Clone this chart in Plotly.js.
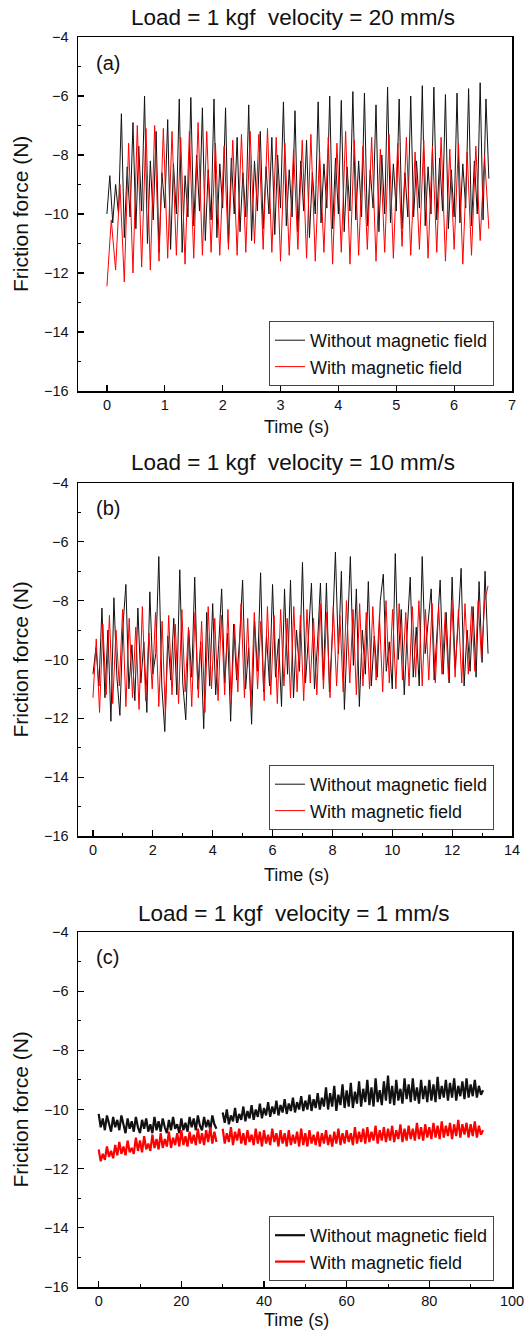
<!DOCTYPE html>
<html>
<head>
<meta charset="utf-8">
<script src="https://cdn.plot.ly/plotly-3.0.1.min.js"></script>
<style>html,body{margin:0;padding:0;background:#fff;}#chart{width:530px;height:1341px;}</style>
</head>
<body>
<div id="chart"></div>
<script>
// ---------- DATA ----------
// Panel (a): Load = 1 kgf, velocity = 20 mm/s
const dtA_without = 0.05;   // s, sample step of black trace
const fA_without = [
 -10.0,
 -8.7,-10.3,-9.0,-10.0,  -6.6,-10.8,-8.4,-10.1,  -6.9,-10.5,-7.7,-9.9,  -6.0,-11.0,-8.2,-10.2,
 -7.2,-11.3,-8.6,-9.8,   -6.8,-11.2,-8.3,-10.0,  -6.1,-11.3,-8.7,-10.1, -6.05,-10.4,-8.0,-9.9,
 -6.4,-10.9,-8.5,-10.2,  -6.1,-10.8,-8.3,-9.8,   -6.4,-11.0,-8.1,-10.0, -7.4,-10.6,-8.6,-10.1,
 -6.3,-10.9,-8.2,-9.9,   -7.2,-10.5,-8.4,-10.0,  -7.4,-10.7,-8.0,-9.8,  -6.2,-10.4,-8.5,-10.1,
 -6.5,-10.6,-8.2,-9.9,   -7.5,-10.8,-8.6,-10.0,  -6.2,-10.3,-8.3,-9.8,  -6.0,-10.5,-8.1,-10.0,
 -6.15,-10.6,-8.4,-9.9,  -5.85,-10.2,-8.2,-10.1, -5.9,-10.4,-8.5,-9.8,  -6.3,-10.6,-8.0,-10.0,
 -5.7,-10.3,-8.3,-9.9,   -6.1,-10.5,-8.6,-10.1,  -6.0,-10.1,-8.2,-9.8,  -5.65,-10.4,-8.4,-10.0,
 -5.7,-10.2,-8.1,-9.9,   -5.95,-10.5,-8.5,-10.1, -5.9,-10.3,-8.3,-9.8,  -5.75,-10.4,-8.2,-10.0,
 -5.55,-10.2,-6.1,-8.8
];
const dtA_with = 0.075;     // s, sample step of red trace
const fA_with = [
 -12.45,-10.2,-11.9,-9.0,-12.3,-7.6,-12.0,-7.0,-11.8,-7.1,
 -11.9,-7.0,-11.6,-7.1,-11.5,-7.2,-11.4,-7.4,-11.7,-7.2,
 -11.5,-6.9,-11.4,-7.2,-11.3,-7.6,-11.4,-7.7,-11.2,-7.5,
 -11.4,-7.3,-11.3,-7.2,-11.0,-7.3,-11.2,-7.1,-11.3,-7.4,
 -11.6,-7.6,-11.4,-7.8,-11.2,-7.5,-11.5,-7.3,-11.6,-7.9,
 -11.3,-7.4,-11.7,-7.6,-11.3,-7.2,-11.7,-7.5,-11.4,-7.7,
 -11.2,-7.4,-11.6,-7.8,-11.3,-7.3,-11.5,-7.6,-11.1,-7.4,
 -11.4,-7.9,-11.2,-7.5,-11.5,-7.7,-11.3,-7.4,-11.6,-7.8,
 -11.2,-7.6,-11.7,-7.9,-11.4,-7.7,-10.9,-8.0,-10.5
];

// Panel (b): Load = 1 kgf, velocity = 10 mm/s
const dtB_without = 0.1;
const fB_without = [
 -10.5,-9.6,-10.9,-8.25,-11.3,-9.0,-12.1,-7.9,-10.6,-11.9,
 -8.9,-7.45,-11.0,-9.5,-11.4,-8.25,-10.8,-9.4,-11.8,-7.7,
 -10.5,-9.8,-6.5,-10.9,-12.45,-9.2,-10.7,-8.6,-11.2,-6.95,
 -10.8,-12.05,-9.0,-10.6,-7.2,-11.0,-9.4,-12.35,-8.4,-10.9,
 -8.1,-11.2,-9.5,-7.6,-10.8,-9.1,-12.1,-8.8,-10.7,-9.3,
 -7.3,-11.0,-9.6,-12.2,-8.7,-10.4,-7.05,-11.1,-9.2,-10.9,
 -7.45,-10.6,-9.3,-11.6,-7.6,-10.5,-7.3,-11.3,-9.0,-10.4,
 -6.7,-10.8,-9.2,-7.4,-11.0,-9.5,-7.4,-10.7,-7.4,-11.1,
 -9.1,-6.35,-9.8,-7.0,-11.7,-9.3,-6.5,-10.2,-7.6,-11.6,
 -9.0,-10.5,-7.35,-10.9,-9.2,-10.6,-8.0,-7.1,-10.4,-9.4,
 -11.0,-6.4,-10.0,-8.3,-11.2,-9.0,-7.2,-10.6,-8.9,-10.9,
 -6.5,-9.8,-8.6,-7.6,-10.7,-9.1,-7.3,-10.5,-8.4,-10.8,
 -7.2,-10.3,-8.8,-6.9,-10.9,-9.0,-10.4,-8.2,-10.6,-7.35,
 -10.1,-7.0,-9.8
];
const dtB_with = 0.11;
const fB_with = [
 -11.3,-9.3,-11.8,-8.8,-11.2,-8.5,-11.5,-9.0,-10.9,-8.3,
 -11.6,-8.6,-11.3,-8.9,-11.7,-8.2,-11.4,-9.1,-11.0,-8.4,
 -11.6,-8.7,-11.9,-8.5,-11.2,-8.8,-11.5,-8.3,-11.1,-8.9,
 -11.6,-8.4,-11.3,-8.7,-11.8,-8.2,-11.0,-8.6,-11.4,-8.5,
 -11.2,-8.3,-11.5,-8.8,-11.1,-8.1,-11.3,-8.6,-11.6,-8.4,
 -11.0,-8.7,-11.4,-8.2,-11.2,-8.5,-11.5,-8.3,-10.9,-8.6,
 -11.3,-8.2,-11.1,-8.5,-11.4,-8.3,-10.8,-8.6,-11.2,-8.1,
 -11.0,-8.4,-11.3,-8.2,-10.9,-8.5,-11.1,-8.0,-10.8,-8.3,
 -11.2,-8.1,-10.9,-8.4,-11.0,-8.2,-10.7,-8.5,-11.1,-8.0,
 -10.8,-8.3,-11.0,-8.1,-10.7,-8.4,-10.9,-8.2,-10.6,-8.0,
 -10.9,-8.3,-10.7,-8.1,-10.8,-8.2,-10.5,-8.4,-10.7,-8.0,
 -10.6,-8.3,-10.8,-8.1,-10.5,-8.2,-10.4,-8.0,-10.0,-8.0,
 -7.5
];

// Panel (c): Load = 1 kgf, velocity = 1 mm/s  (null = gap in the record near 29 s)
const dtC = 0.5;
const fC_without = [
 -10.15,-10.6,-10.3,-10.7,-10.2,-10.45,-10.75,-10.25,-10.6,-10.35,
 -10.7,-10.2,-10.55,-10.8,-10.3,-10.65,-10.4,-10.75,-10.25,-10.6,
 -10.8,-10.35,-10.65,-10.3,-10.75,-10.5,-10.8,-10.25,-10.7,-10.4,
 -10.75,-10.3,-10.6,-10.8,-10.35,-10.7,-10.25,-10.65,-10.5,-10.8,
 -10.3,-10.7,-10.45,-10.75,-10.25,-10.6,-10.3,-10.7,-10.2,-10.55,
 -10.7,-10.25,-10.6,-10.35,-10.7,-10.2,-10.5,-10.65,null,null,
 -10.1,-10.45,-10.0,-10.5,-10.2,-10.4,-9.95,-10.45,-10.15,-10.35,
 -9.9,-10.4,-10.05,-10.3,-9.85,-10.35,-10.0,-10.25,-9.8,-10.3,
 -9.95,-10.2,-9.75,-10.25,-9.9,-10.15,-9.7,-10.2,-9.85,-10.1,
 -9.65,-10.15,-9.8,-10.05,-9.6,-10.1,-9.75,-10.0,-9.55,-10.05,
 -9.7,-10.0,-9.5,-10.05,-9.65,-9.95,-9.45,-10.0,-9.6,-9.9,
 -9.25,-10.0,-9.45,-9.9,-9.2,-10.05,-9.5,-9.85,-9.15,-9.95,
 -9.35,-9.9,-9.1,-9.95,-9.4,-9.8,-9.05,-9.9,-9.3,-9.75,
 -9.0,-9.85,-9.25,-9.9,-8.95,-9.75,-9.35,-9.85,-9.05,-9.7,
 -8.85,-9.8,-9.2,-9.85,-9.0,-9.7,-9.3,-9.8,-8.95,-9.65,
 -9.15,-9.75,-8.95,-9.7,-9.25,-9.8,-9.0,-9.65,-9.2,-9.75,
 -9.0,-9.7,-9.15,-9.75,-8.9,-9.65,-9.2,-9.6,-9.0,-9.7,
 -9.1,-9.6,-8.95,-9.7,-9.2,-9.55,-9.05,-9.65,-8.95,-9.6,
 -9.15,-9.55,-9.0,-9.6,-9.2,-9.5,-9.35
];
const fC_with = [
 -11.35,-11.75,-11.5,-11.7,-11.25,-11.6,-11.4,-11.65,-11.2,-11.55,
 -11.1,-11.5,-11.25,-11.55,-11.05,-11.45,-11.3,-11.5,-10.95,-11.4,
 -11.05,-11.45,-10.9,-11.35,-11.15,-11.4,-10.85,-11.3,-11.0,-11.35,
 -10.8,-11.3,-11.0,-11.25,-10.75,-11.3,-10.95,-11.2,-10.8,-11.25,
 -10.7,-11.2,-10.9,-11.25,-10.75,-11.15,-10.85,-11.2,-10.65,-11.15,
 -10.8,-11.2,-10.7,-11.1,-10.6,-11.15,-10.75,-11.1,null,null,
 -10.65,-11.15,-10.8,-11.1,-10.6,-11.2,-10.75,-11.05,-10.65,-11.15,
 -10.8,-11.2,-10.7,-11.1,-10.85,-11.2,-10.65,-11.15,-10.75,-11.25,
 -10.7,-11.15,-10.85,-11.2,-10.65,-11.1,-10.8,-11.25,-10.7,-11.15,
 -10.8,-11.25,-10.7,-11.2,-10.85,-11.15,-10.75,-11.25,-10.65,-11.2,
 -10.8,-11.25,-10.7,-11.15,-10.85,-11.2,-10.75,-11.25,-10.8,-11.15,
 -10.7,-11.2,-10.85,-11.25,-10.75,-11.15,-10.65,-11.2,-10.8,-11.15,
 -10.7,-11.1,-10.8,-11.2,-10.6,-11.15,-10.75,-11.1,-10.65,-11.15,
 -10.6,-11.1,-10.75,-11.05,-10.55,-11.15,-10.7,-11.05,-10.6,-11.1,
 -10.65,-11.05,-10.55,-11.1,-10.7,-11.0,-10.5,-11.1,-10.65,-11.05,
 -10.55,-11.0,-10.65,-11.05,-10.45,-11.0,-10.6,-11.05,-10.5,-10.95,
 -10.6,-11.0,-10.45,-10.95,-10.55,-11.0,-10.4,-10.95,-10.55,-10.9,
 -10.45,-11.0,-10.5,-10.9,-10.35,-10.95,-10.5,-10.85,-10.45,-10.95,
 -10.5,-10.9,-10.4,-10.95,-10.55,-10.85,-10.7
];

const panelTitles = ["Load = 1 kgf  velocity = 20 mm/s", "Load = 1 kgf  velocity = 10 mm/s", "Load = 1 kgf  velocity = 1 mm/s"];
const panelLabels = ["(a)", "(b)", "(c)"];
const seriesNames = ["Without magnetic field", "With magnetic field"];
const xTitle = "Time (s)";
const yTitle = "Friction force (N)";

// ---------- BUILD ----------
function times(n, dt) { const t = []; for (let i = 0; i < n; i++) t.push(+(i * dt).toFixed(4)); return t; }

const FONT = "Arial, 'Liberation Sans', sans-serif";
const BLACK = "#111111", RED = "#ff0000";

function pair(fw, dtw, fm, dtm, k, lw) {
  const sfx = k === 1 ? "" : String(k);
  return [
    {x: times(fw.length, dtw), y: fw, type: "scatter", mode: "lines", name: seriesNames[0],
     line: {color: BLACK, width: lw}, xaxis: "x" + sfx, yaxis: "y" + sfx, legend: "legend" + sfx},
    {x: times(fm.length, dtm), y: fm, type: "scatter", mode: "lines", name: seriesNames[1],
     line: {color: RED, width: lw}, xaxis: "x" + sfx, yaxis: "y" + sfx, legend: "legend" + sfx}
  ];
}
const data = [].concat(
  pair(fA_without, dtA_without, fA_with, dtA_with, 1, 1),
  pair(fB_without, dtB_without, fB_with, dtB_with, 2, 1),
  pair(fC_without, dtC, fC_with, dtC, 3, 2.2)
);

const W = 530, H = 1341;
const px = v => v / W, py = v => 1 - v / H;
const xDom = [px(78), px(512)];
const boxes = [[37, 391], [483, 836], [932, 1287]];
const TICKFONT = {family: FONT, size: 14.5, color: "#111"};

function yax(b) {
  return {domain: [py(b[1]), py(b[0])], range: [-16, -4], dtick: 2, tick0: 0,
    showgrid: false, zeroline: false, showline: true, mirror: true, linecolor: "#000", linewidth: 1.5,
    ticks: "inside", ticklen: 6, tickwidth: 1.2, tickcolor: "#000", ticklabelstandoff: 5,
    minor: {dtick: 1, ticks: "inside", ticklen: 3, tickcolor: "#000", tickwidth: 1},
    tickfont: TICKFONT, fixedrange: true};
}
function xax(anchor, range, dtick, minorDtick) {
  const a = {domain: xDom, anchor: anchor, range: range, dtick: dtick, tick0: 0,
    showgrid: false, zeroline: false, showline: true, mirror: true, linecolor: "#000", linewidth: 1.5,
    ticks: "inside", ticklen: 6, tickwidth: 1.2, tickcolor: "#000",
    tickfont: TICKFONT, fixedrange: true};
  if (minorDtick) a.minor = {dtick: minorDtick, ticks: "inside", ticklen: 3, tickcolor: "#000", tickwidth: 1};
  return a;
}
function leg(midPx) {
  return {x: px(269), y: py(midPx), xanchor: "left", yanchor: "middle", bgcolor: "#fff",
    bordercolor: "#444", borderwidth: 1, font: {family: FONT, size: 18, color: "#111"},
    tracegroupgap: 0, itemwidth: 30};
}

const annotations = [];
const titleY = [18, 462, 913], xTitleY = [427, 875, 1320], labelY = [63, 508, 957];
for (let i = 0; i < 3; i++) {
  annotations.push({text: panelTitles[i], x: px(293), y: py(titleY[i]), xref: "paper", yref: "paper",
    xanchor: "center", yanchor: "middle", showarrow: false, font: {family: FONT, size: 22.5, color: "#111"}});
  annotations.push({text: xTitle, x: px(296), y: py(xTitleY[i]), xref: "paper", yref: "paper",
    xanchor: "center", yanchor: "middle", showarrow: false, font: {family: FONT, size: 18, color: "#111"}});
  annotations.push({text: yTitle, x: px(20), y: py((boxes[i][0] + boxes[i][1]) / 2), xref: "paper", yref: "paper",
    xanchor: "center", yanchor: "middle", textangle: -90, showarrow: false, font: {family: FONT, size: 21, color: "#111"}});
  annotations.push({text: panelLabels[i], x: px(94), y: py(labelY[i]), xref: "paper", yref: "paper",
    xanchor: "left", yanchor: "middle", showarrow: false, font: {family: FONT, size: 20, color: "#111"}});
}

const layout = {
  width: W, height: H, margin: {l: 0, r: 0, t: 0, b: 0},
  paper_bgcolor: "#fff", plot_bgcolor: "#fff", showlegend: true,
  xaxis: xax("y", [-0.5, 7], 1, null),
  yaxis: Object.assign(yax(boxes[0]), {anchor: "x"}),
  xaxis2: xax("y2", [-0.5, 14], 2, 1),
  yaxis2: Object.assign(yax(boxes[1]), {anchor: "x2"}),
  xaxis3: xax("y3", [-5, 100], 20, 10),
  yaxis3: Object.assign(yax(boxes[2]), {anchor: "x3"}),
  legend: leg(353.5), legend2: leg(797.5), legend3: leg(1248.5),
  annotations: annotations
};

Plotly.newPlot("chart", data, layout, {staticPlot: true, displayModeBar: false});
</script>
</body>
</html>
